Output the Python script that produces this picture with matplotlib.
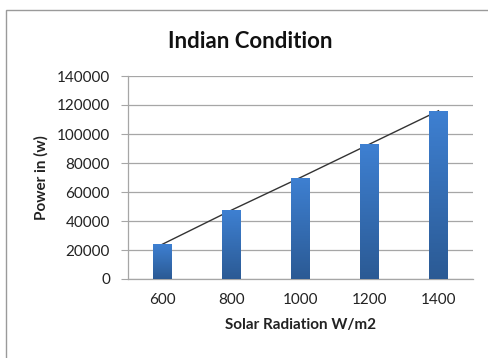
import matplotlib
matplotlib.use("Agg")
import matplotlib.pyplot as plt
import numpy as np
from matplotlib.colors import LinearSegmentedColormap
from matplotlib.patches import Rectangle

categories = ["600", "800", "1000", "1200", "1400"]
power = [24000, 47500, 70000, 93000, 116000]
yticks = [0, 20000, 40000, 60000, 80000, 100000, 120000, 140000]

plt.rcParams['font.family'] = ['Lato', 'DejaVu Sans']
W, H = 489, 358
fig = plt.figure(figsize=(W/100, H/100), dpi=100)
ax = fig.add_axes([128/W, 1-279/H, (473-128)/W, (279-76)/H])

x = np.arange(len(categories))
ax.plot(x, power, color='#333333', lw=1.0, zorder=2)
bars = ax.bar(x, power, width=0.27, color='none', zorder=3)

cmap = LinearSegmentedColormap.from_list('g', ['#2b5a94', '#3e80d2'])
grad = np.linspace(0, 1, 256).reshape(-1, 1)
for b in bars:
    x0, y0 = b.get_x(), b.get_y()
    w, h = b.get_width(), b.get_height()
    im = ax.imshow(grad, cmap=cmap, origin='lower', aspect='auto',
                   extent=[x0, x0 + w, y0, y0 + h], zorder=3)
    im.set_clip_path(b)

ax.set_xlim(-0.5, len(categories) - 0.5)
ax.set_ylim(0, 140000)
ax.set_yticks(yticks)
ax.set_yticklabels([str(v) for v in yticks])
ax.set_xticks(x)
ax.set_xticklabels(categories)
ax.grid(axis='y', color='#a6a6a6', lw=0.9, zorder=0)
ax.set_axisbelow(True)
for s in ['top', 'right']:
    ax.spines[s].set_visible(False)
for s in ['left', 'bottom']:
    ax.spines[s].set_color('#a6a6a6')
    ax.spines[s].set_linewidth(0.9)
ax.tick_params(axis='y', length=5, color='#a6a6a6', labelsize=11, pad=8, labelcolor='#222222')
ax.tick_params(axis='x', length=0, labelsize=11, pad=10, labelcolor='#222222')

ax.set_ylabel("Power in (w)", fontsize=11, fontweight='bold', labelpad=6, color='#222222')
ax.set_xlabel("Solar Radiation W/m2", fontsize=11, fontweight='bold', labelpad=8, color='#222222')
fig.text(250/W, 1-41/H, "Indian Condition", ha='center', va='center',
         fontsize=16, fontweight='bold', color='#111111')

fig.patches.append(Rectangle((6/W, -0.1), 1.2, 1 - 10/H + 0.1, transform=fig.transFigure,
                             fill=False, edgecolor='#9a9a9a', lw=1.0))

fig.savefig("out.png", dpi=100)
